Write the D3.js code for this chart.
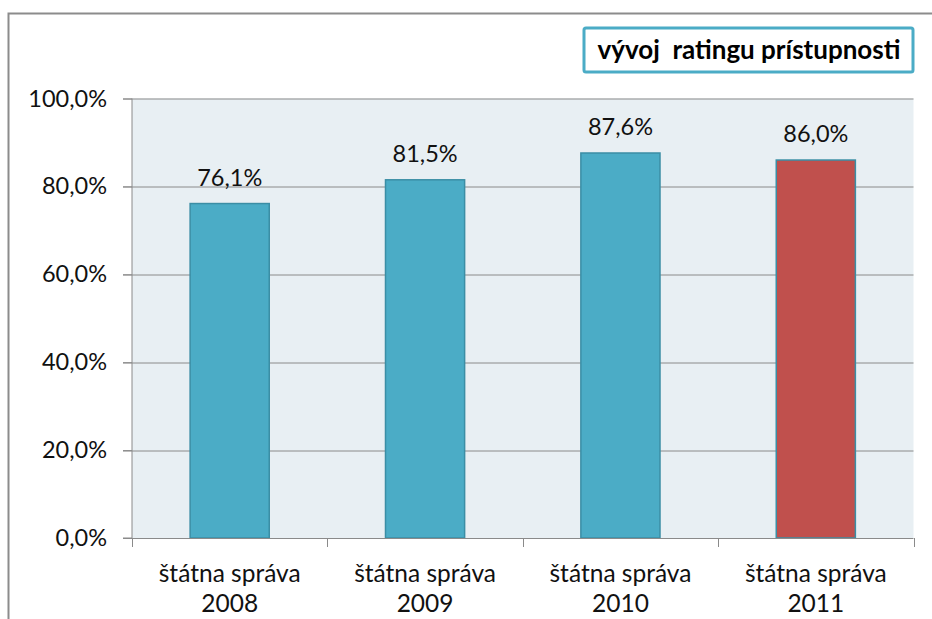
<!DOCTYPE html>
<html>
<head>
  <meta charset="utf-8">
  <title>vývoj ratingu prístupnosti</title>
  <style>
    html, body { margin: 0; padding: 0; background: #fff; }
    svg { display: block; font-family: Lato, "Open Sans", sans-serif; }
  </style>
</head>
<body>
  <div class="chart-container"></div>
  <script src="https://cdn.jsdelivr.net/npm/d3@7/dist/d3.min.js"></script>
  <script>
    // data
    var categories = ['štátna správa 2008', 'štátna správa 2009', 'štátna správa 2010', 'štátna správa 2011'];
    var values = [76.1, 81.5, 87.6, 86.0];
    var yTicks = [0, 20, 40, 60, 80, 100];
    var chartTitle = 'vývoj  ratingu prístupnosti';

    var width = 932, height = 619;
    var margin = { top: 98.5, right: 18.5, bottom: 81, left: 132 };
    var innerW = width - margin.left - margin.right;
    var innerH = height - margin.top - margin.bottom;

    var blue = '#4bacc6', red = '#c0504d', barStroke = '#3b8ea5', gridColor = '#8a8a8a';
    var fontSize = 23.5;

    var svg = d3.select('.chart-container').append('svg')
      .attr('width', width)
      .attr('height', height);

    // outer chart frame (cut off at right and bottom)
    svg.append('path')
      .attr('d', 'M8.5,' + height + 'V13.5H' + width)
      .attr('fill', 'none')
      .attr('stroke', '#8c8c8c')
      .attr('stroke-width', 2);

    var g = svg.append('g')
      .attr('transform', 'translate(' + margin.left + ',' + margin.top + ')');

    var x = d3.scaleBand()
      .domain(categories)
      .range([0, innerW])
      .paddingInner(0.595)
      .paddingOuter(0.2975);

    var y = d3.scaleLinear()
      .domain([0, 100])
      .range([innerH, 0]);

    // plot background
    g.append('rect')
      .attr('width', innerW)
      .attr('height', innerH)
      .attr('fill', '#e8eff3');

    // gridlines
    g.append('g')
      .selectAll('line')
      .data(yTicks.filter(function (d) { return d > 0; }))
      .join('line')
      .attr('x1', -9)
      .attr('x2', innerW)
      .attr('y1', function (d) { return Math.round(y(d)) + 0.5; })
      .attr('y2', function (d) { return Math.round(y(d)) + 0.5; })
      .attr('stroke', gridColor)
      .attr('stroke-width', 1);

    // bars
    g.append('g')
      .selectAll('rect')
      .data(values)
      .join('rect')
      .attr('x', function (d, i) { return x(categories[i]); })
      .attr('y', function (d) { return y(d); })
      .attr('width', x.bandwidth())
      .attr('height', function (d) { return innerH - y(d); })
      .attr('fill', function (d, i) { return i === values.length - 1 ? red : blue; })
      .attr('stroke', barStroke)
      .attr('stroke-width', 1.5);

    // value labels
    g.append('g')
      .selectAll('text')
      .data(values)
      .join('text')
      .attr('x', function (d, i) { return x(categories[i]) + x.bandwidth() / 2; })
      .attr('y', function (d) { return y(d) - 18; })
      .attr('text-anchor', 'middle')
      .attr('font-size', fontSize)
      .attr('fill', '#111')
      .text(function (d) { return d.toFixed(1).replace('.', ',') + '%'; });

    // y axis
    var yAxis = d3.axisLeft(y)
      .tickValues(yTicks)
      .tickSize(9)
      .tickPadding(16)
      .tickFormat(function (d) { return d.toFixed(1).replace('.', ',') + '%'; });

    var gy = g.append('g').call(yAxis);
    gy.select('.domain').attr('d', 'M-9,' + innerH + 'H0V0').attr('stroke', gridColor);
    gy.selectAll('.tick line').attr('stroke', gridColor);
    gy.selectAll('.tick text')
      .attr('font-size', fontSize)
      .attr('font-family', 'Lato, "Open Sans", sans-serif')
      .attr('fill', '#111');

    // x axis: ticks at category boundaries
    var boundaries = d3.range(categories.length + 1).map(function (i) { return i * x.step(); });
    var gx = g.append('g').attr('transform', 'translate(0,' + innerH + ')');
    gx.append('line')
      .attr('x1', 0).attr('x2', innerW)
      .attr('y1', 0.5).attr('y2', 0.5)
      .attr('stroke', gridColor);
    gx.selectAll('line.tk')
      .data(boundaries)
      .join('line')
      .attr('class', 'tk')
      .attr('x1', function (d) { return Math.round(d) + 0.5; })
      .attr('x2', function (d) { return Math.round(d) + 0.5; })
      .attr('y1', 0)
      .attr('y2', 9)
      .attr('stroke', gridColor);

    var labels = gx.selectAll('text.cat')
      .data(categories)
      .join('text')
      .attr('class', 'cat')
      .attr('text-anchor', 'middle')
      .attr('font-size', 24.5)
      .attr('fill', '#111')
      .attr('transform', function (d) { return 'translate(' + (x(d) + x.bandwidth() / 2) + ',0)'; });
    labels.append('tspan')
      .attr('x', 0).attr('y', 44)
      .text(function (d) { return d.slice(0, d.lastIndexOf(' ')); });
    labels.append('tspan')
      .attr('x', 0).attr('y', 74)
      .text(function (d) { return d.slice(d.lastIndexOf(' ') + 1); });

    // title box
    var tg = svg.append('g');
    tg.append('rect')
      .attr('x', 584)
      .attr('y', 28)
      .attr('width', 329)
      .attr('height', 44)
      .attr('rx', 2)
      .attr('fill', '#fff')
      .attr('stroke', blue)
      .attr('stroke-width', 3);
    tg.append('text')
      .attr('x', 749)
      .attr('y', 59)
      .attr('text-anchor', 'middle')
      .attr('font-size', 26)
      .attr('font-weight', 'bold')
      .attr('fill', '#000')
      .attr('xml:space', 'preserve')
      .style('white-space', 'pre')
      .text(chartTitle);
  </script>
</body>
</html>
